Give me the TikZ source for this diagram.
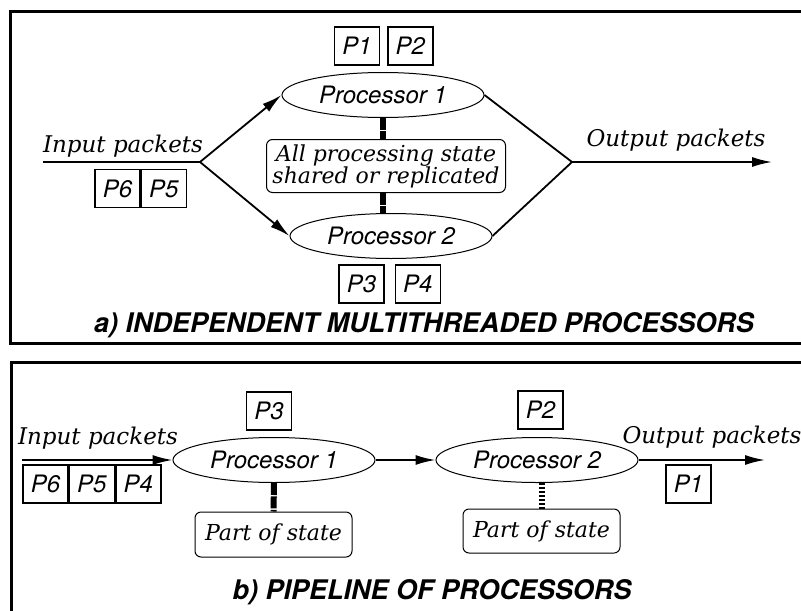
\documentclass[tikz,border=0pt]{standalone}
\usepackage{fontspec}
\setsansfont{TeX Gyre Heros}
\newfontfamily\seriflabel{DejaVu Serif}
\usetikzlibrary{shapes,arrows.meta,positioning,calc}

\tikzset{
  proc/.style={draw, ellipse, line width=0.5pt, minimum width=101pt, minimum height=22.5pt, inner sep=0pt,
    font=\sffamily\itshape\fontsize{12}{14}\selectfont},
  pkt/.style={draw, line width=0.7pt, minimum width=22.5pt, minimum height=19pt, inner sep=0pt,
    font=\sffamily\itshape\fontsize{12}{14}\selectfont},
  statebox/.style={draw, rounded corners=3pt, line width=0.5pt, inner sep=1pt, align=center,
    font=\seriflabel\itshape\fontsize{11}{11}\selectfont},
  flowlabel/.style={font=\seriflabel\itshape\fontsize{11.5}{13}\selectfont},
  caption/.style={font=\sffamily\bfseries\itshape\fontsize{13.5}{15}\selectfont},
  frame/.style={line width=1.5pt},
  wire/.style={line width=0.9pt},
  flow/.style={wire, -{Latex[length=10pt,width=5pt]}},
  statelink/.style={line width=3pt, dash pattern=on 6pt off 0.7pt},
  stripelink/.style={line width=3pt, dash pattern=on 1.2pt off 0.8pt},
}

\begin{document}
\begin{tikzpicture}[x=0.5pt,y=-0.5pt]
  \useasboundingbox (0,0) rectangle (801,610);
  \clip (0,0) rectangle (801,610);

  % outer frames
  \draw[frame] (10,12) rectangle (840,343);
  \draw[frame] (11,362) rectangle (840,640);

  % a) independent processors
  \node[proc] (p1) at (383,95) {Processor 1};
  \node[proc] (p2) at (391,236) {Processor 2};
  \node[statebox, minimum width=119.5pt, minimum height=26.5pt] (shared) at (386,166)
    {All processing state\\shared or replicated};
  \coordinate (in) at (43,162);
  \coordinate (fork) at (200,162);
  \coordinate (join) at (572,162);
  \coordinate (out) at (772,162);
  \draw[wire] (in) -- (fork);
  \draw[flow] (fork) -- (p1.west);
  \draw[flow] (fork) -- (p2.west);
  \draw[wire] (p1.east) -- (join) -- (p2.east);
  \draw[flow] (join) -- (out);
  \draw[statelink] (p1.south) -- (p1.south |- shared.north);
  \draw[statelink] (p1.south |- shared.south) -- (p1.south |- p2.north);
  \node[flowlabel] (inlabel) at (123,146) {Input packets};
  \node[flowlabel] (outlabel) at (676,140) {Output packets};

  \node[pkt] (a6) at (117.5,188.5) {P6};
  \node[pkt, right=0pt of a6] (a5) {P5};
  \node[pkt] (a1) at (357,46) {P1};
  \node[pkt, right=3.5pt of a1] (a2) {P2};
  \node[pkt] (a3) at (361.5,284) {P3};
  \node[pkt, right=5pt of a3] (a4) {P4};

  \node[caption] (capa) at (424,325) {a) INDEPENDENT MULTITHREADED PROCESSORS};

  % b) pipeline
  \node[proc] (q1) at (274,460) {Processor 1};
  \node[proc] (q2) at (537,460) {Processor 2};
  \coordinate (bin) at (22,460);
  \coordinate (bout) at (765,460);
  \draw[flow] (bin) -- (q1.west);
  \draw[flow] (q1) -- (q2);
  \draw[flow] (q2.east) -- (bout);
  \node[flowlabel] (binlabel) at (98,438) {Input packets};
  \node[flowlabel] (boutlabel) at (712,437) {Output packets};

  \node[pkt] (b6) at (45.5,484) {P6};
  \node[pkt, right=0pt of b6] (b5) {P5};
  \node[pkt, right=0pt of b5] (b4) {P4};
  \node[pkt] (b3) at (269,411) {P3};
  \node[pkt] (b2) at (540.5,410) {P2};
  \node[pkt] (b1) at (688.5,484) {P1};

  \node[statebox, minimum width=78.5pt, minimum height=22.5pt] (s1) at (273.5,534.5) {Part of state};
  \node[statebox, minimum width=78.5pt, minimum height=22pt] (s2) at (541.5,531) {Part of state};
  \draw[statelink] (q1.south) -- (s1.north);
  \draw[stripelink] (s2.north |- q2.south) -- (s2.north);

  \node[caption] (capb) at (432,592) {b) PIPELINE OF PROCESSORS};
\end{tikzpicture}
\end{document}
